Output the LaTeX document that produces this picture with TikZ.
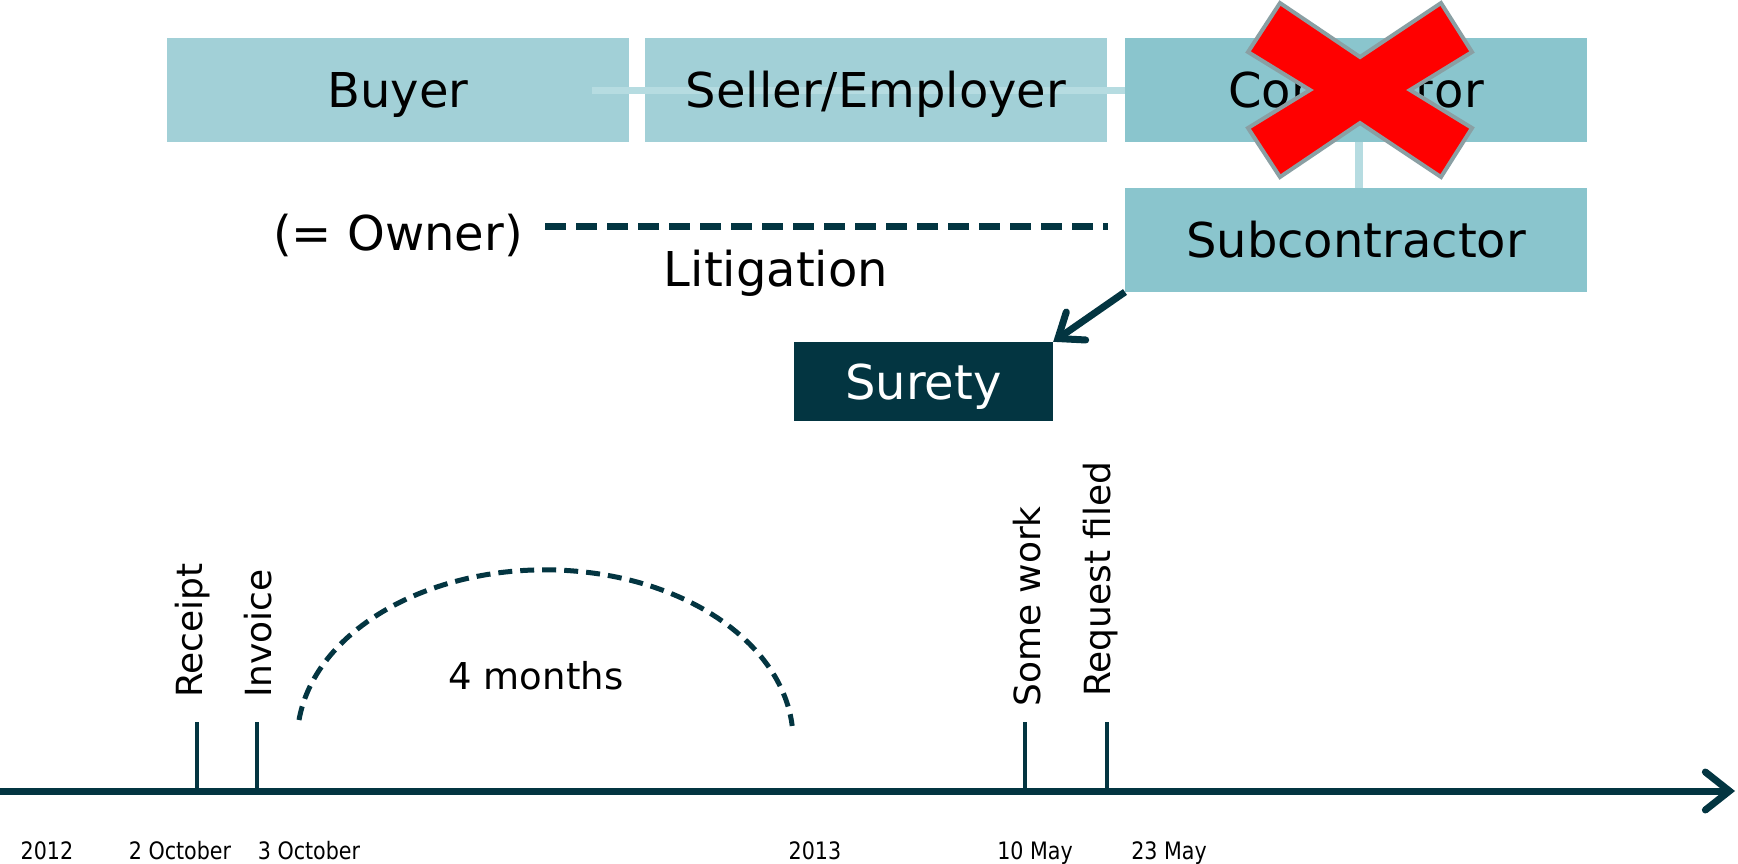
\documentclass[tikz,border=0pt]{standalone}
\usepackage{fontspec}
\usepackage{graphicx}
\setmainfont{DejaVu Sans}
\usetikzlibrary{arrows.meta}
\definecolor{dark}{HTML}{033541}
\definecolor{lightbox}{HTML}{A2D0D7}
\definecolor{midbox}{HTML}{8AC5CD}
\definecolor{linkcol}{HTML}{B6DCE1}
\definecolor{xborder}{HTML}{8A9FA3}
\newcommand{\cond}[1]{\scalebox{0.86}[1]{#1}}
\begin{document}
\begin{tikzpicture}[x=1pt,y=-1pt,
  bigfont/.style={font=\fontsize{48}{56}\selectfont},
  box/.style={bigfont,minimum width=462pt,minimum height=104pt,inner sep=0pt,outer sep=0pt,text height=35pt,text depth=0pt},
  lbox/.style={box,fill=lightbox},
  mbox/.style={box,fill=midbox},
  btext/.style={bigfont,inner sep=0pt,text height=35pt,text depth=0pt},
  link/.style={draw=linkcol,line width=7pt},
  big/.style={bigfont,inner sep=0pt},
  vlab/.style={inner sep=0pt,rotate=90,anchor=base west,font=\fontsize{36}{42}\selectfont},
  datelab/.style={inner sep=0pt,anchor=base,font=\fontsize{24}{28}\selectfont},
  ticklin/.style={draw=dark,line width=4pt},
  darkline/.style={draw=dark,line width=7pt},
]
\useasboundingbox (0,0) rectangle (1738,863);

% top boxes
\node[lbox] (buyer) at (398,90) {};
\node[lbox] (seller) at (876,90) {};
\node[mbox] (contr) at (1356,90) {Contractor};
\draw[link] ([xshift=-37pt]buyer.east) -- (contr.west);
\node[btext] (buyertext) at (buyer) {Buyer};
\node[btext] (sellertext) at (seller) {Seller/Employer};

\node[mbox] (sub) at (1356,240) {Subcontractor};
\draw[link,line width=8pt] ([xshift=3pt]contr.south) -- ([xshift=3pt]sub.north);

% red cross
\draw[draw=xborder,line width=4pt,fill=red,line join=miter]
  (1280,3) -- (1360,57) -- (1441,3) -- (1472,52) -- (1410,90) -- (1472,128)
  -- (1441,177) -- (1360,123) -- (1280,177) -- (1248,128) -- (1310,90) -- (1248,52) -- cycle;

% surety
\node[bigfont,fill=dark,text=white,minimum width=259pt,minimum height=79pt,inner sep=0pt,
  text height=35pt,text depth=0pt] (surety) at (923.5,381.5) {Surety};
\draw[darkline,-{Straight Barb[length=22pt,width=34pt,line cap=round]}] (sub.south west) -- (surety.north east);

% owner / litigation
\node[big,anchor=base east] (owner) at (523,250) {(= Owner)};
\coordinate (litA) at (545,226);
\coordinate (litB) at (1108,226);
\draw[darkline,dash pattern=on 21pt off 10pt] (litA) -- (litB);
\node[big,anchor=base] (litig) at (776,286) {Litigation};

% timeline
\coordinate (t0) at (0,791);
\coordinate (tend) at (1735,791);
\draw[darkline,-{Straight Barb[length=24pt,width=38pt,line cap=round]}] (t0) -- (tend);
\foreach \x in {197,257,1025,1107} \draw[ticklin] (\x,722) -- (\x,791);

\node[vlab] (receipt) at (202,698) {Receipt};
\node[vlab] (invoice) at (271,698) {Invoice};
\node[vlab] (somework) at (1040,707) {Some work};
\node[vlab] (request) at (1110,697) {Request filed};

% 4 months arc
\draw[draw=dark,line width=5pt,dash pattern=on 14pt off 8pt]
  (299,720) arc[start angle=187,end angle=355,x radius=248,y radius=171];
\node[inner sep=0pt,anchor=base,font=\fontsize{37}{44}\selectfont] (months) at (536,689) {4 months};

% dates
\node[datelab] (d2012) at (47,859) {\cond{2012}};
\node[datelab] (doct2) at (180,859) {\cond{2 October}};
\node[datelab] (doct3) at (309,859) {\cond{3 October}};
\node[datelab] (d2013) at (815,859) {\cond{2013}};
\node[datelab] (dmay10) at (1035,859) {\cond{10 May}};
\node[datelab] (dmay23) at (1169,859) {\cond{23 May}};
\end{tikzpicture}
\end{document}
